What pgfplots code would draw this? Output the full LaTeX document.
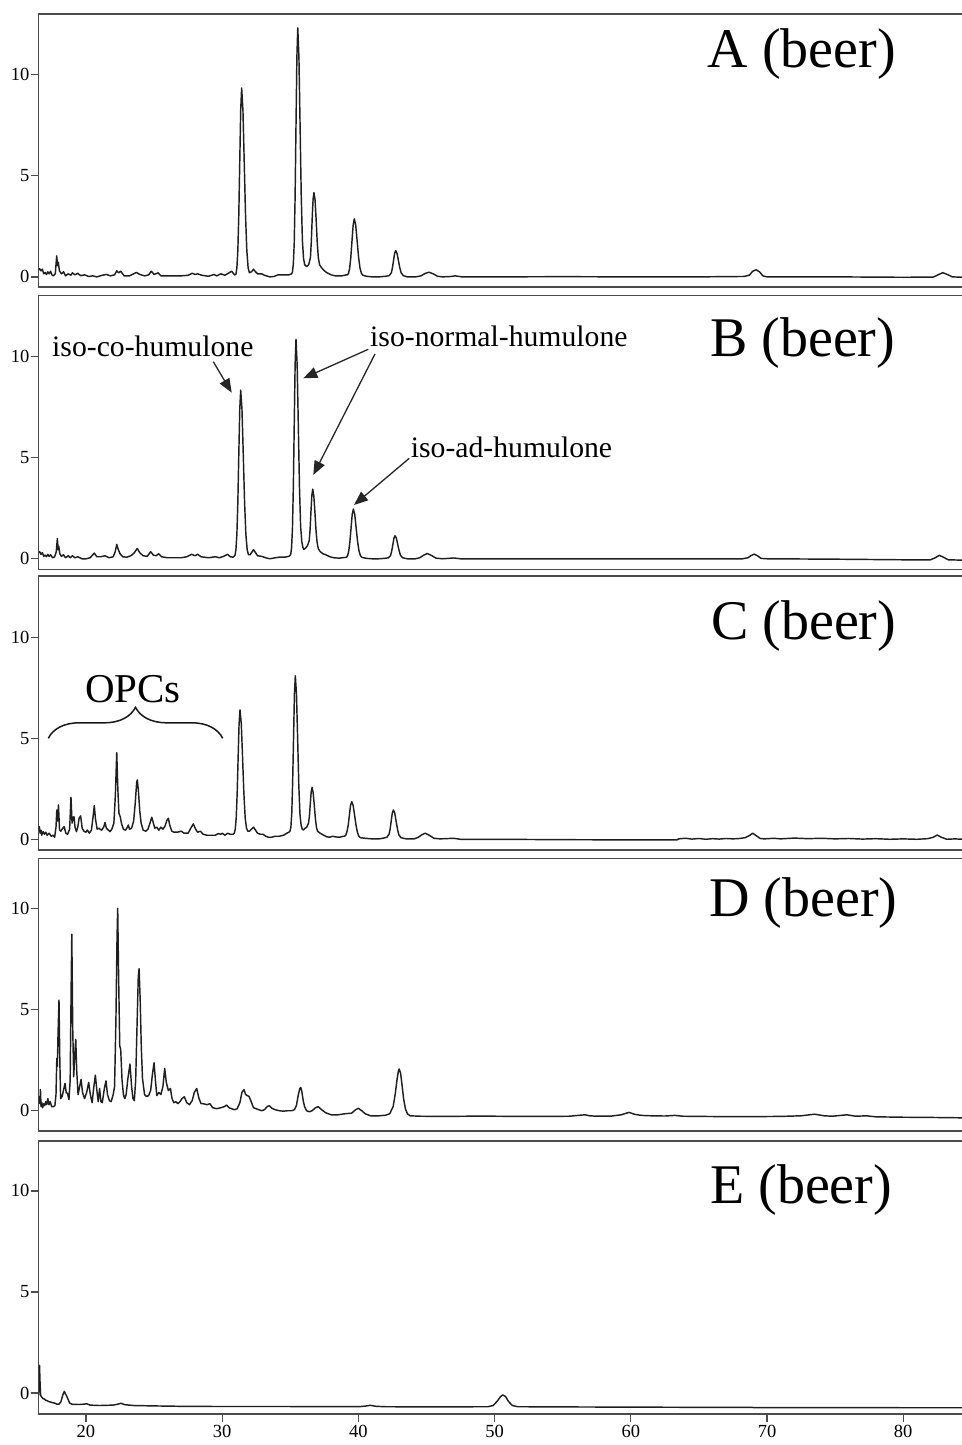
\documentclass[border=0pt]{standalone}
\usepackage{fontspec}
\setmainfont{Liberation Serif}
\usepackage{pgfplots}
\pgfplotsset{compat=1.18}
\usetikzlibrary{arrows.meta,decorations.pathreplacing}
\pgfplotsset{
  chrom/.style={
    scale only axis, width=924.3pt, xmin=16.53, xmax=84.39,
    anchor=south west,
    axis line style={draw=black!70, line width=1.3pt},
    ytick={0,5,10}, ytick pos=left, tick align=outside, major tick length=8pt,
    tick style={black!70, line width=1.3pt},
    xtick=\empty, minor tick num=0,
    tick label style={font=\fontsize{18.5}{18.5}\selectfont},
    /pgf/number format/assume math mode=true,
    yticklabel style={inner sep=1pt},
    every axis plot post/.append style={draw=black!88, line width=1.45pt, mark=none, line join=round},
  }
}
\begin{document}
\begin{tikzpicture}
\useasboundingbox (0pt,0pt) rectangle (961pt,1445pt);
% ---------------- A
\begin{axis}[chrom, at={(38.7pt,1158pt)}, height=273pt, ymin=-0.5, ymax=13.0]
\addplot coordinates {(16.53,0.35)(16.6,0.40)(16.7,0.30)(16.8,0.38)(16.9,0.15)(17.0,0.22)(17.1,0.12)(17.2,0.25)(17.3,0.15)(17.4,0.28)(17.5,0.10)(17.6,0.05)(17.75,0.15)(17.85,1.04)(17.92,0.55)(17.97,0.72)(18.05,0.30)(18.2,0.15)(18.35,0.25)(18.5,0.05)(18.7,0.15)(18.9,0.08)(19.0,0.20)(19.2,0.10)(19.4,0.18)(19.6,0.06)(19.9,0.10)(20.2,0.02)(20.5,0.05)(20.8,0.0)(21.2,0.08)(21.5,0.12)(21.8,0.05)(22.1,0.10)(22.26,0.30)(22.4,0.20)(22.55,0.28)(22.8,0.05)(23.2,0.05)(23.5,0.15)(23.7,0.22)(23.95,0.12)(24.3,0.05)(24.6,0.10)(24.8,0.28)(25.0,0.12)(25.3,0.20)(25.5,0.05)(26.0,0.05)(27.0,0.05)(27.5,0.08)(27.8,0.18)(28.0,0.12)(28.2,0.15)(28.5,0.08)(29.0,0.03)(29.4,0.12)(29.6,0.05)(29.9,0.15)(30.2,0.08)(30.5,0.20)(30.7,0.28)(30.9,0.10)
(31.01,0.12)(31.08,0.45)(31.15,1.30)(31.22,3.05)(31.29,5.66)(31.36,8.24)(31.43,9.34)(31.525,8.24)(31.62,5.66)(31.715,3.05)(31.81,1.30)(31.905,0.45)(32.0,0.20)(32.15,0.25)(32.3,0.38)(32.45,0.25)(32.6,0.15)(32.9,0.15)(33.1,0.08)(33.5,0.0)(33.8,0.02)(34.1,0.10)(34.5,0.10)(34.9,0.10)(35.1,0.15)
(35.16,0.24)(35.225,0.64)(35.29,1.67)(35.355,3.99)(35.42,7.47)(35.485,10.86)(35.55,12.31)(35.635,10.86)(35.72,7.47)(35.805,4.0)(35.89,1.8)(35.975,0.9)(36.06,0.6)(36.2,0.51)
(36.35,0.6)(36.48,0.95)(36.545,1.75)(36.61,2.9)(36.675,3.85)(36.74,4.17)(36.82,3.8)(36.9,2.8)(36.98,1.7)(37.06,0.95)(37.15,0.6)(37.3,0.45)(37.5,0.3)(37.7,0.2)(38.0,0.1)(38.3,0.05)(38.8,0.05)(39.1,0.10)
(39.19,0.10)(39.275,0.17)(39.36,0.43)(39.445,0.97)(39.53,1.77)(39.615,2.55)(39.70,2.87)(39.805,2.55)(39.91,1.77)(40.015,0.97)(40.12,0.43)(40.225,0.17)(40.33,0.08)(40.6,0.03)(41.0,0.0)(41.5,0.0)(42.0,0.03)(42.26,0.06)
(42.42,0.2)(42.5,0.45)(42.58,0.8)(42.66,1.16)(42.74,1.30)(42.84,1.16)(42.94,0.8)(43.04,0.45)(43.14,0.2)(43.3,0.06)(43.6,0.0)(44.2,0.0)(44.6,0.05)(44.9,0.17)(45.19,0.23)(45.5,0.15)(45.8,0.03)(46.2,0.0)(46.8,0.02)(47.1,0.05)(47.6,0.0)(50,0.0)(55,0.01)(60,0.0)(65,0.0)(68.3,0.02)(68.7,0.08)(68.95,0.28)(69.2,0.35)(69.45,0.25)(69.7,0.05)(70.0,0.0)(75,0.0)(80,-0.02)(82.2,-0.01)(82.5,0.08)(82.9,0.21)(83.3,0.1)(83.6,0.0)(84.4,-0.02)};
\end{axis}
% ---------------- B
\begin{axis}[chrom, at={(38.7pt,875.7pt)}, height=274pt, ymin=-0.52, ymax=13.04]
\addplot coordinates {(16.53,0.30)(16.6,0.35)(16.7,0.22)(16.8,0.30)(16.9,0.12)(17.0,0.18)(17.1,0.10)(17.2,0.22)(17.3,0.12)(17.4,0.20)(17.55,0.05)(17.7,0.10)(17.82,0.35)(17.9,1.00)(17.96,0.45)(18.0,0.62)(18.08,0.25)(18.2,0.12)(18.35,0.20)(18.5,0.05)(18.7,0.15)(18.85,0.05)(19.0,0.15)(19.2,0.05)(19.4,0.10)(19.7,0.0)(20.0,0.0)(20.3,0.05)(20.61,0.28)(20.8,0.10)(21.1,0.10)(21.4,0.15)(21.7,0.05)(22.0,0.10)(22.15,0.35)(22.26,0.71)(22.35,0.50)(22.5,0.25)(22.7,0.10)(23.0,0.08)(23.3,0.15)(23.55,0.30)(23.77,0.51)(23.95,0.30)(24.2,0.15)(24.5,0.12)(24.75,0.35)(24.95,0.18)(25.15,0.15)(25.34,0.25)(25.55,0.10)(26,0.05)(27,0.05)(27.4,0.10)(27.76,0.22)(28.0,0.15)(28.2,0.22)(28.45,0.10)(29.0,0.05)(29.5,0.10)(29.8,0.05)(30.1,0.12)(30.4,0.22)(30.6,0.10)(30.8,0.08)
(30.94,0.17)(31.01,0.45)(31.08,1.21)(31.15,2.79)(31.22,5.14)(31.29,7.38)(31.36,8.35)(31.455,7.38)(31.55,5.14)(31.645,2.79)(31.74,1.21)(31.835,0.45)(31.93,0.2)(32.05,0.2)(32.2,0.35)(32.3,0.45)(32.45,0.3)(32.6,0.15)(32.9,0.12)(33.2,0.05)(33.5,0.0)(33.9,0.05)(34.2,0.08)(34.6,0.08)(34.9,0.12)
(35.03,0.2)(35.095,0.55)(35.16,1.5)(35.225,3.55)(35.29,6.6)(35.355,9.6)(35.42,10.86)(35.505,9.6)(35.59,6.6)(35.675,3.55)(35.76,1.6)(35.845,0.85)(35.93,0.55)(36.0,0.46)(36.15,0.55)
(36.26,0.65)(36.39,0.9)(36.455,1.45)(36.52,2.35)(36.585,3.15)(36.65,3.45)(36.73,3.1)(36.81,2.3)(36.89,1.4)(36.97,0.8)(37.06,0.5)(37.2,0.35)(37.4,0.25)(37.6,0.2)(37.9,0.1)(38.2,0.05)(38.6,0.03)(38.9,0.06)
(39.12,0.07)(39.205,0.15)(39.29,0.37)(39.375,0.83)(39.46,1.5)(39.545,2.18)(39.63,2.46)(39.735,2.18)(39.84,1.5)(39.945,0.83)(40.05,0.37)(40.155,0.15)(40.26,0.07)(40.6,0.02)(41,0.0)(41.5,0.0)(41.9,0.02)(42.21,0.05)
(42.37,0.17)(42.45,0.4)(42.53,0.7)(42.61,1.02)(42.69,1.14)(42.79,1.02)(42.89,0.7)(42.99,0.4)(43.09,0.17)(43.25,0.05)(43.6,0.0)(44.2,0.0)(44.5,0.05)(44.8,0.18)(45.06,0.26)(45.35,0.17)(45.7,0.03)(46.2,0.0)(47,0.04)(47.5,0.0)(55,0.0)(60,0.0)(65,0.0)(68.2,0.0)(68.6,0.05)(68.85,0.17)(69.07,0.23)(69.3,0.15)(69.55,0.02)(70,0.0)(75,-0.02)(80,-0.05)(82.0,-0.05)(82.35,0.05)(82.65,0.17)(82.95,0.08)(83.3,-0.05)(84.4,-0.07)};
\end{axis}
% ---------------- C
\begin{axis}[chrom, at={(38.7pt,595pt)}, height=274pt, ymin=-0.53, ymax=13.03]
\addplot coordinates {(16.53,0.45)(16.58,0.63)(16.63,0.30)(16.7,0.45)(16.75,0.20)(16.85,0.38)(16.95,0.25)(17.05,0.35)(17.15,0.20)(17.3,0.30)(17.45,0.15)(17.6,0.20)(17.7,0.10)(17.8,0.60)(17.86,1.45)(17.92,0.90)(17.98,1.70)(18.06,0.46)(18.15,0.40)(18.3,0.55)(18.4,0.63)(18.52,0.30)(18.65,0.25)(18.8,0.50)(18.9,2.08)(18.98,0.80)(19.05,1.05)(19.12,1.12)(19.2,0.60)(19.3,0.38)(19.4,0.60)(19.5,1.05)(19.61,1.16)(19.72,0.55)(19.85,0.40)(20.0,0.35)(20.1,0.46)(20.25,0.30)(20.4,0.45)(20.52,1.10)(20.61,1.67)(20.7,1.00)(20.82,0.50)(20.95,0.55)(21.03,0.50)(21.15,0.45)(21.3,0.60)(21.4,0.83)(21.5,0.55)(21.65,0.45)(21.77,0.38)(21.9,0.50)(22.05,0.80)(22.16,2.20)(22.26,4.29)(22.34,2.50)(22.42,1.30)(22.52,1.10)(22.62,0.75)(22.75,0.50)(22.9,0.45)(23.05,0.60)(23.11,0.71)(23.2,0.50)(23.35,0.55)(23.5,0.90)(23.62,1.80)(23.72,2.80)(23.77,2.94)(23.85,2.40)(23.95,1.40)(24.05,0.80)(24.2,0.45)(24.4,0.40)(24.55,0.50)(24.7,0.80)(24.83,1.09)(24.95,0.80)(25.05,0.55)(25.2,0.60)(25.35,0.45)(25.5,0.60)(25.65,0.50)(25.8,0.65)(25.95,0.95)(26.05,1.04)(26.15,0.70)(26.3,0.40)(26.45,0.35)(26.7,0.35)(27.0,0.40)(27.2,0.30)(27.5,0.30)(27.7,0.55)(27.88,0.76)(28.05,0.50)(28.2,0.35)(28.4,0.40)(28.6,0.25)(28.9,0.20)(29.2,0.20)(29.5,0.20)(29.7,0.28)(29.9,0.25)(30.0,0.30)(30.2,0.20)(30.4,0.30)(30.6,0.25)(30.8,0.25)
(30.89,0.3)(30.96,0.5)(31.03,1.05)(31.1,2.25)(31.17,4.0)(31.24,5.7)(31.31,6.4)(31.405,5.7)(31.5,4.0)(31.595,2.25)(31.69,1.05)(31.785,0.55)(31.88,0.4)(32.0,0.4)(32.15,0.5)(32.3,0.6)(32.45,0.45)(32.6,0.3)(32.8,0.25)(33.0,0.25)(33.2,0.15)(33.4,0.1)(33.6,0.1)(33.9,0.15)(34.2,0.15)(34.5,0.2)(34.75,0.3)(34.9,0.35)
(34.98,0.4)(35.045,0.6)(35.11,1.3)(35.175,2.85)(35.24,5.0)(35.305,7.2)(35.37,8.09)(35.455,7.2)(35.54,5.0)(35.625,2.7)(35.71,1.25)(35.795,0.7)(35.88,0.5)(35.96,0.46)(36.1,0.55)
(36.21,0.6)(36.34,0.8)(36.405,1.15)(36.47,1.75)(36.535,2.35)(36.6,2.57)(36.68,2.3)(36.76,1.7)(36.84,1.05)(36.92,0.6)(37.0,0.4)(37.2,0.3)(37.45,0.2)(37.7,0.12)(37.9,0.1)(38.1,0.15)(38.3,0.12)(38.6,0.1)(38.9,0.15)
(39.0,0.15)(39.085,0.22)(39.17,0.4)(39.255,0.7)(39.34,1.2)(39.425,1.68)(39.51,1.86)(39.615,1.68)(39.72,1.2)(39.825,0.7)(39.93,0.35)(40.035,0.15)(40.14,0.08)(40.5,0.05)(41,0.02)(41.5,0.02)(41.8,0.05)(42.09,0.1)
(42.25,0.25)(42.33,0.5)(42.41,0.9)(42.49,1.3)(42.57,1.45)(42.67,1.3)(42.77,0.9)(42.87,0.5)(42.97,0.22)(43.13,0.08)(43.5,0.02)(44.1,0.02)(44.4,0.1)(44.65,0.22)(44.9,0.3)(45.2,0.2)(45.55,0.05)(46.0,0.02)(47.0,0.05)(47.5,0.0)(50,0.0)(55,-0.02)(60,-0.03)(63.4,-0.03)(63.5,0.02)(64,0.05)(64.5,0.01)(65,0.04)(65.5,0.0)(66,0.03)(66.5,0.01)(67,0.04)(67.5,0.02)(68.0,0.04)(68.4,0.08)(68.7,0.18)(68.95,0.30)(69.2,0.18)(69.5,0.04)(69.8,0.02)(70.5,0.05)(71,0.02)(72,0.06)(73,0.03)(74,0.05)(75,0.02)(76,0.04)(77,0.01)(78,0.03)(79,0.0)(80,0.02)(81,0.0)(81.8,0.03)(82.2,0.1)(82.5,0.21)(82.8,0.1)(83.2,0.0)(83.8,0.02)(84.4,0.0)};
\end{axis}
% ---------------- D
\begin{axis}[chrom, at={(38.7pt,314pt)}, height=272.7pt, ymin=-1.0, ymax=12.47]
\addplot coordinates {(16.53,0.40)(16.58,0.70)(16.62,0.35)(16.66,1.05)(16.7,0.20)(16.76,0.40)(16.82,0.15)(16.9,0.35)(16.97,0.25)(17.05,0.45)(17.12,0.30)(17.2,0.60)(17.28,0.30)(17.38,0.45)(17.48,0.20)(17.6,0.20)(17.72,0.25)(17.8,0.80)(17.86,2.59)(17.9,2.20)(17.95,3.80)(18.02,5.47)(18.08,2.50)(18.14,0.60)(18.25,0.70)(18.38,1.10)(18.46,1.35)(18.55,0.90)(18.65,0.85)(18.75,0.55)(18.84,1.50)(18.92,6.50)(18.96,8.72)(19.03,4.00)(19.1,1.68)(19.18,2.80)(19.25,3.53)(19.32,2.00)(19.42,0.80)(19.54,1.20)(19.64,1.55)(19.75,0.90)(19.9,0.60)(20.05,0.90)(20.2,1.40)(20.32,0.80)(20.45,0.40)(20.58,1.20)(20.69,1.76)(20.8,1.00)(20.9,0.45)(21.0,1.10)(21.1,0.45)(21.2,0.40)(21.35,1.10)(21.47,1.48)(21.58,0.80)(21.72,0.50)(21.85,0.45)(22.0,0.80)(22.1,1.20)(22.2,4.50)(22.28,8.50)(22.33,10.00)(22.4,6.50)(22.48,3.20)(22.55,3.03)(22.65,1.50)(22.75,0.80)(22.85,0.60)(22.95,0.80)(23.08,1.60)(23.23,2.31)(23.35,1.20)(23.45,0.60)(23.55,0.50)(23.65,1.50)(23.76,4.50)(23.84,6.60)(23.9,7.02)(23.98,5.50)(24.06,3.20)(24.15,1.60)(24.3,0.80)(24.45,0.70)(24.6,0.75)(24.75,1.00)(24.88,1.80)(25.0,2.37)(25.1,1.50)(25.2,0.75)(25.35,0.90)(25.5,0.80)(25.65,1.20)(25.78,2.09)(25.9,1.40)(26.05,1.00)(26.2,1.10)(26.32,0.60)(26.45,0.40)(26.6,0.45)(26.75,0.35)(26.9,0.45)(27.05,0.60)(27.22,0.69)(27.4,0.40)(27.6,0.30)(27.8,0.50)(27.95,0.90)(28.13,1.10)(28.3,0.60)(28.45,0.35)(28.6,0.35)(28.9,0.30)(29.1,0.35)(29.3,0.15)(29.6,0.10)(29.9,0.15)(30.15,0.20)(30.33,0.28)(30.5,0.15)(30.7,0.10)(30.9,0.05)(31.1,0.10)(31.3,0.40)(31.45,0.90)(31.6,1.05)(31.72,0.80)(31.85,0.75)(31.98,0.70)(32.1,0.50)(32.3,0.15)(32.5,0.10)(32.7,0.05)(32.9,0.00)(33.1,0.05)(33.3,0.20)(33.46,0.25)(33.65,0.12)(33.9,0.05)(34.2,0.00)(34.5,-0.02)(34.8,0.00)(35.1,0.00)(35.3,0.05)(35.45,0.25)(35.58,0.75)(35.7,1.10)(35.77,1.15)(35.85,0.95)(35.95,0.50)(36.05,0.20)(36.2,0.00)(36.4,-0.05)(36.6,0.00)(36.85,0.15)(37.06,0.20)(37.3,0.05)(37.6,-0.10)(38.0,-0.20)(38.5,-0.20)(39.0,-0.15)(39.5,-0.12)(39.8,0.05)(40.0,0.12)(40.25,0.00)(40.5,-0.15)(40.9,-0.25)(41.5,-0.25)(42.0,-0.22)(42.3,-0.15)(42.55,0.20)(42.7,0.80)(42.85,1.60)(42.95,2.00)(43.0,2.06)(43.1,1.85)(43.2,1.30)(43.32,0.60)(43.45,0.10)(43.6,-0.15)(43.8,-0.25)(44.5,-0.27)(46,-0.28)(48,-0.27)(50,-0.27)(52,-0.28)(54,-0.28)(55.5,-0.27)(56.3,-0.22)(56.64,-0.20)(57.0,-0.25)(57.5,-0.27)(58.5,-0.27)(59.3,-0.20)(59.87,-0.08)(60.3,-0.18)(60.8,-0.23)(61.5,-0.25)(62.5,-0.26)(63.25,-0.23)(63.8,-0.27)(65,-0.28)(67,-0.29)(69,-0.29)(71,-0.28)(72.5,-0.25)(73.5,-0.17)(74.2,-0.25)(74.8,-0.27)(75.86,-0.20)(76.5,-0.27)(77.3,-0.25)(78,-0.30)(80,-0.32)(82,-0.33)(84.4,-0.35)};
\end{axis}
% ---------------- E
\begin{axis}[chrom, at={(38.7pt,31pt)}, height=273pt, ymin=-1.04, ymax=12.47,
  xtick={20,30,40,50,60,70,80}, xtick pos=bottom, xticklabel style={inner sep=3pt}]
\addplot coordinates {(16.53,-0.10)(16.56,0.60)(16.59,1.37)(16.63,0.50)(16.67,-0.12)(16.75,-0.20)(16.85,-0.28)(16.95,-0.30)(17.05,-0.36)(17.15,-0.38)(17.25,-0.42)(17.4,-0.45)(17.55,-0.48)(17.7,-0.50)(17.85,-0.55)(18.0,-0.56)(18.15,-0.45)(18.3,-0.10)(18.41,0.08)(18.5,-0.05)(18.58,-0.15)(18.68,-0.30)(18.8,-0.50)(19.0,-0.56)(19.5,-0.57)(19.9,-0.55)(20.05,-0.53)(20.3,-0.60)(21.0,-0.62)(22.0,-0.60)(22.3,-0.56)(22.57,-0.51)(22.85,-0.58)(23.5,-0.62)(25,-0.64)(27,-0.66)(30,-0.67)(35,-0.67)(40,-0.68)(40.5,-0.65)(40.86,-0.61)(41.3,-0.66)(42,-0.68)(45,-0.69)(49.5,-0.68)(49.9,-0.62)(50.2,-0.40)(50.45,-0.17)(50.6,-0.10)(50.8,-0.17)(51.0,-0.40)(51.3,-0.62)(51.7,-0.68)(55,-0.69)(60,-0.70)(65,-0.71)(68.8,-0.71)(69,-0.72)(75,-0.72)(80,-0.73)(84.4,-0.73)};
\end{axis}
% ---------------- labels
\tikzset{plab/.style={anchor=base west, inner sep=0pt, font=\fontsize{56}{56}\selectfont}}
\node[plab] at (707.7pt,1377.3pt) {A (beer)};
\node[plab] at (710pt,1088.3pt) {B (beer)};
\node[plab] at (711pt,805.7pt) {C (beer)};
\node[plab] at (709.3pt,528.3pt) {D (beer)};
\node[plab] at (710pt,241.7pt) {E (beer)};
\tikzset{ann/.style={anchor=base west, inner sep=0pt, font=\fontsize{29.7}{30}\selectfont},
  arr/.style={-{Triangle[length=14pt,width=11pt]}, line width=1.3pt, black!85}}
\node[ann] at (52pt,1088.3pt) {iso-co-humulone};
\node[ann] at (370pt,1098.3pt) {iso-normal-humulone};
\node[ann] at (410.7pt,987.3pt) {iso-ad-humulone};
\draw[arr] (213.3pt,1083.3pt) -- (231.7pt,1052.3pt);
\draw[arr] (368.3pt,1095.7pt) -- (303.3pt,1066.7pt);
\draw[arr] (375pt,1091pt) -- (313.3pt,970pt);
\draw[arr] (409.3pt,986.7pt) -- (354pt,940pt);
\node[anchor=base west, inner sep=0pt, font=\fontsize{41}{41}\selectfont] at (85pt,742.3pt) {OPCs};
\draw[decorate, decoration={brace, amplitude=31pt}, line width=1.5pt, black!90] (48.3pt,706.7pt) -- (222.7pt,706.7pt);
\end{tikzpicture}
\end{document}
